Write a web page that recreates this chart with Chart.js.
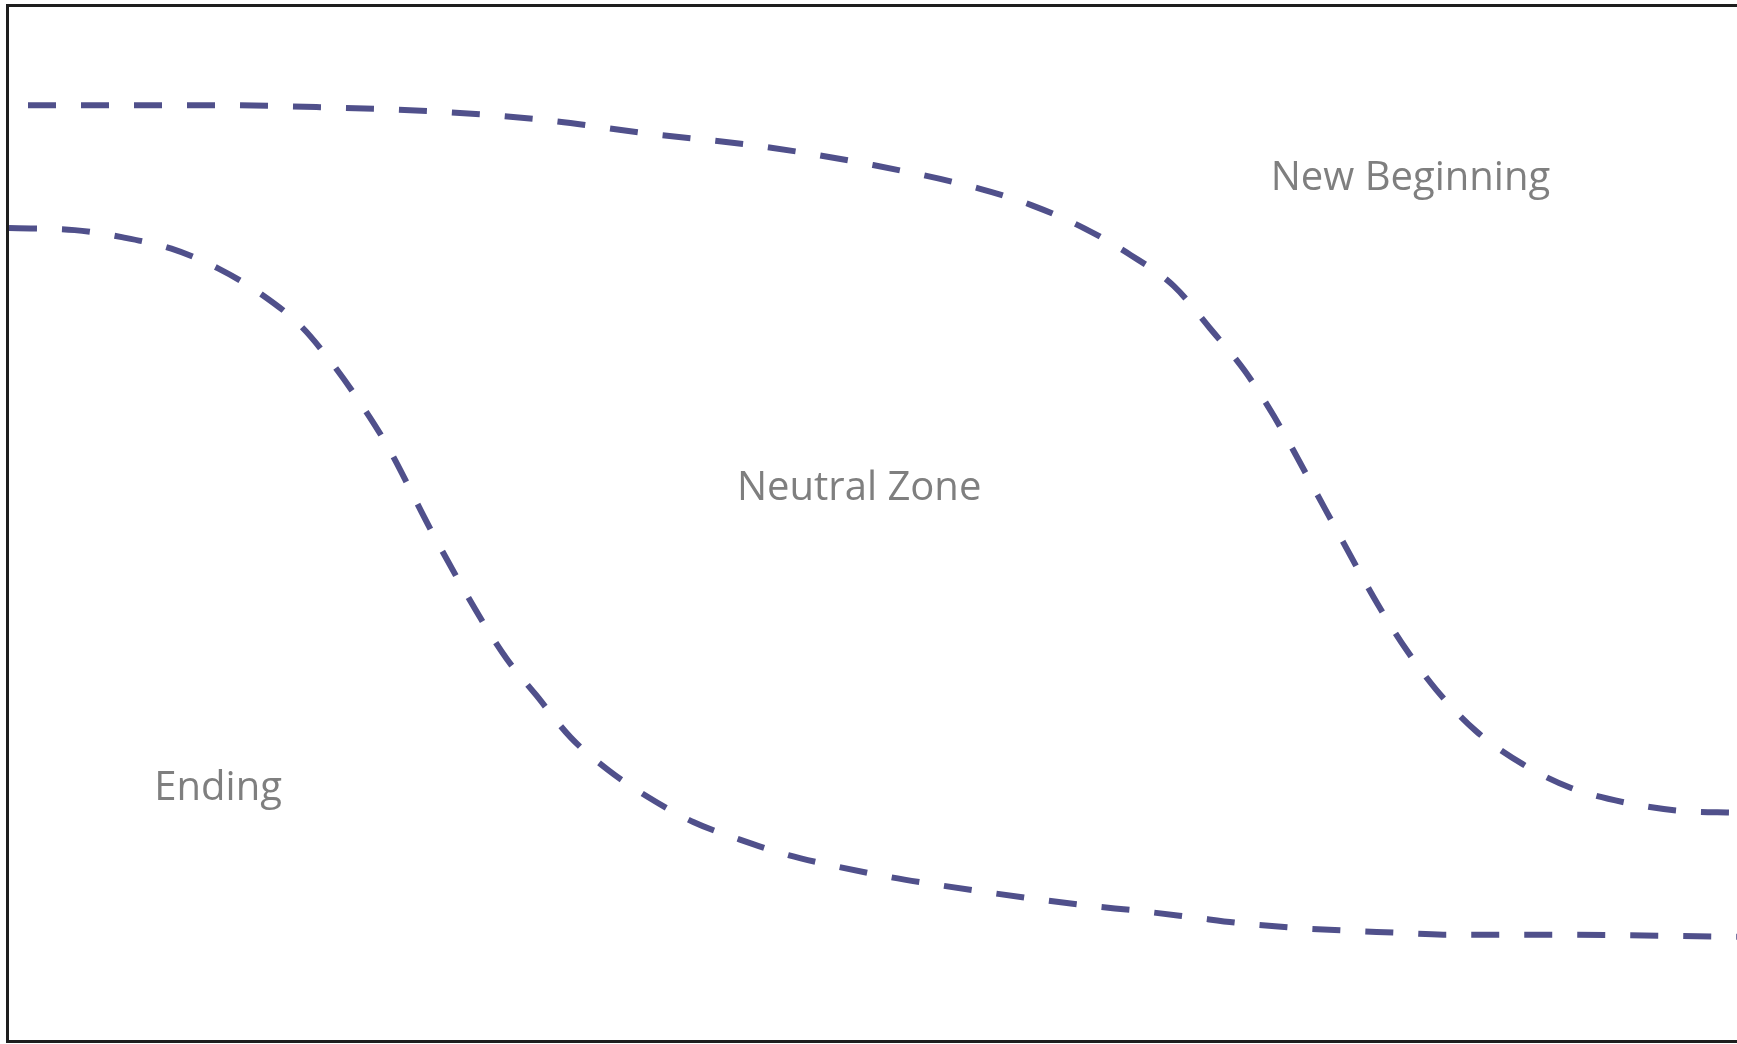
<!DOCTYPE html>
<html>
<head>
<meta charset="utf-8">
<script src="https://cdn.jsdelivr.net/npm/chart.js@4"></script>
<style>
  html, body { margin: 0; padding: 0; background: #ffffff; }
  #wrap { width: 1737px; height: 1044px; position: relative; }
</style>
</head>
<body>
<div id="wrap"><canvas id="c"></canvas></div>
<script>
// Time axis (0-100) and level (0-100)
const newBeginningX = [1.1, 5.1, 11.6, 18.0, 24.5, 30.8, 37.2, 43.6, 50.0, 56.2, 59.2, 62.2, 64.9, 67.4, 69.5, 71.5, 73.2, 76.2, 79.2, 80.9, 82.6, 84.9, 87.6, 90.4, 93.5, 96.6, 100];
const newBeginningY = [90.5, 90.5, 90.5, 90.3, 89.9, 89.1, 87.7, 86.5, 84.7, 82.4, 80.8, 78.6, 76.0, 73.0, 68.9, 64.8, 60.4, 51.3, 42.2, 37.7, 33.9, 29.9, 26.7, 24.4, 23.0, 22.2, 22.0];

const endingX = [0, 3.8, 6.6, 9.4, 12.1, 14.6, 16.9, 18.7, 20.4, 21.9, 24.5, 27.3, 28.8, 30.5, 32.5, 34.7, 37.0, 39.6, 42.3, 45.1, 47.9, 50.9, 53.8, 56.6, 59.6, 62.5, 65.4, 68.4, 71.3, 74.1, 77.2, 80.1, 83.0, 88.9, 100];
const endingY = [78.6, 78.4, 77.7, 76.6, 74.7, 72.2, 69.1, 65.5, 61.5, 57.5, 49.1, 40.8, 36.9, 33.4, 29.3, 26.1, 23.5, 21.1, 19.4, 17.9, 16.8, 15.8, 15.0, 14.3, 13.6, 13.0, 12.5, 11.9, 11.3, 10.9, 10.6, 10.4, 10.2, 10.2, 10.0];

const zoneLabels = ["Ending", "Neutral Zone", "New Beginning"];
const zoneLabelX = [12.1, 49.2, 81.1];
const zoneLabelY = [23.2, 52.3, 82.3];

const toPoints = (xs, ys) => xs.map((x, i) => ({ x: x, y: ys[i] }));

const lineColor = '#50508b';

const frameAndLabels = {
  id: 'frameAndLabels',
  afterDatasetsDraw(chart) {
    const { ctx, chartArea, scales } = chart;
    ctx.save();
    ctx.fillStyle = '#7f7f7f';
    ctx.font = '40px "Open Sans", Lato, sans-serif';
    ctx.textAlign = 'center';
    ctx.textBaseline = 'alphabetic';
    zoneLabels.forEach((t, i) => {
      ctx.fillText(t, scales.x.getPixelForValue(zoneLabelX[i]), scales.y.getPixelForValue(zoneLabelY[i]));
    });
    ctx.strokeStyle = '#1e1e1e';
    ctx.lineWidth = 3;
    ctx.beginPath();
    ctx.moveTo(chart.width + 2, chartArea.top - 1.5);
    ctx.lineTo(chartArea.left - 1.5, chartArea.top - 1.5);
    ctx.lineTo(chartArea.left - 1.5, chartArea.bottom + 1.5);
    ctx.lineTo(chart.width + 2, chartArea.bottom + 1.5);
    ctx.stroke();
    ctx.restore();
  }
};

new Chart(document.getElementById('c'), {
  type: 'line',
  data: {
    datasets: [
      {
        label: 'New Beginning',
        data: toPoints(newBeginningX, newBeginningY),
        borderColor: lineColor,
        borderWidth: 6,
        borderDash: [28, 25],
        cubicInterpolationMode: 'monotone',
        pointRadius: 0,
        fill: false
      },
      {
        label: 'Ending',
        data: toPoints(endingX, endingY),
        borderColor: lineColor,
        borderWidth: 6,
        borderDash: [28, 25],
        cubicInterpolationMode: 'monotone',
        pointRadius: 0,
        fill: false
      }
    ]
  },
  options: {
    responsive: true,
    maintainAspectRatio: false,
    animation: false,
    devicePixelRatio: 1,
    layout: { padding: { left: 9, top: 7, right: 0, bottom: 4 } },
    plugins: { legend: { display: false }, tooltip: { enabled: false } },
    scales: {
      x: { type: 'linear', min: 0, max: 100, display: false },
      y: { type: 'linear', min: 0, max: 100, display: false }
    }
  },
  plugins: [frameAndLabels]
});
</script>
</body>
</html>
